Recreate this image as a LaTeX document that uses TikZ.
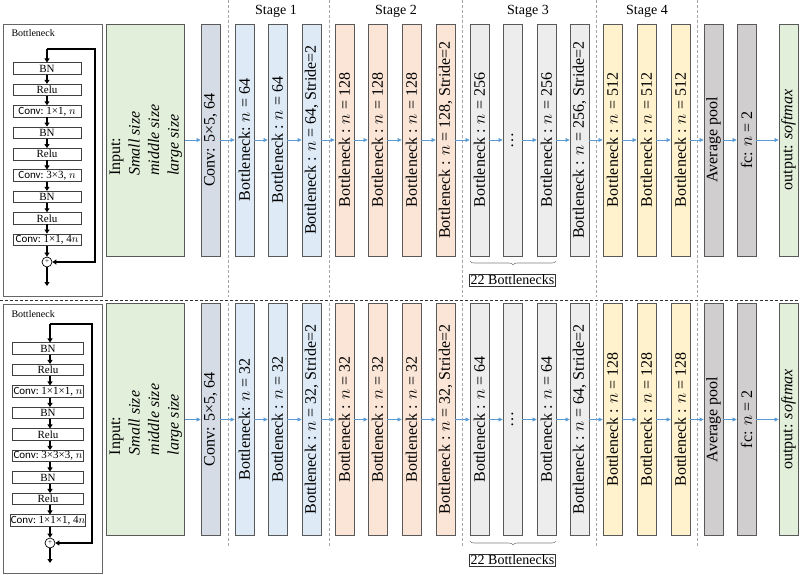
\documentclass[tikz,border=0pt]{standalone}
\usepackage{fontspec}
\setmainfont{Liberation Serif}
\newfontfamily\calib{Carlito}
\usepackage{graphicx}
\usetikzlibrary{arrows.meta,decorations.pathreplacing}
\definecolor{ingreen}{HTML}{E2EFDA}
\definecolor{convc}{HTML}{D6DCE5}
\definecolor{sonec}{HTML}{DEEBF7}
\definecolor{stwoc}{HTML}{FBE5D6}
\definecolor{sthreec}{HTML}{EDEDED}
\definecolor{sfourc}{HTML}{FFF2CC}
\definecolor{poolc}{HTML}{D0CECE}
\definecolor{bordc}{HTML}{595959}
\definecolor{arrowc}{HTML}{5B9BD5}
\newcommand\convtxt[1]{{\calib Conv:}\ #1}
\newcommand\inputtxt{\rotatebox{90}{\begin{tabular}{@{}l@{}}Input:\\\textit{Small size}\\\textit{middle size}\\\textit{large size}\end{tabular}}}
\begin{document}
\begin{tikzpicture}[x=1pt,y=-1pt,
  blk/.style={draw=bordc, line width=0.9pt, minimum width=19pt, minimum height=232pt, inner sep=0pt, font=\fontsize{16}{19.5}\selectfont},
  conn/.style={draw=arrowc, line width=0.7pt, -{Triangle[length=4pt,width=4pt]}},
  lbox/.style={draw=black!75, line width=0.6pt, minimum height=11.5pt, inner sep=0pt, font=\fontsize{11}{11}\selectfont},
  larr/.style={draw=black, line width=1.4pt, -{Triangle[length=4pt,width=5pt]}},
  lline/.style={draw=black, line width=1.4pt},
  frame/.style={draw=black!60, line width=0.8pt},
  sep/.style={draw=black!35, line width=0.6pt, dash pattern=on 3pt off 2pt},
  stagelab/.style={font=\fontsize{14}{16}\selectfont},
  countlab/.style={draw=black!80, line width=0.6pt, inner sep=1.2pt, font=\fontsize{14}{16}\selectfont},
  brc/.style={draw=black!50, line width=0.6pt, decorate, decoration={brace, mirror, amplitude=4pt}},
  lhead/.style={anchor=west, font=\fontsize{10}{11}\selectfont}
]
\useasboundingbox (0,0) rectangle (800,574);

% ---------------- separators ----------------
\draw[draw=black!80, line width=0.7pt, dash pattern=on 3pt off 2pt] (0,300) -- (800,300);
\foreach \x in {228,329,462,596,697}{
  \draw[sep] (\x,0) -- (\x,297);
  \draw[sep] (\x,303) -- (\x,548);
}
\node[stagelab] (st1) at (276,11) {Stage 1};
\node[stagelab] (st2) at (396,11) {Stage 2};
\node[stagelab] (st3) at (528,11) {Stage 3};
\node[stagelab] (st4) at (647,11) {Stage 4};

% ---------------- top left bottleneck panel ----------------
\draw[frame] (3,24) rectangle (102,296);
\node[lhead] (Lth) at (8,33) {Bottleneck};
\node[lbox, minimum width=68pt] (Lt1) at (47,68.5) {BN};
\node[lbox, minimum width=68pt] (Lt2) at (47,89.9) {Relu};
\node[lbox, minimum width=68pt] (Lt3) at (47,111.3) {\convtxt{1×1, $n$}};
\node[lbox, minimum width=68pt] (Lt4) at (47,132.7) {BN};
\node[lbox, minimum width=68pt] (Lt5) at (47,154.1) {Relu};
\node[lbox, minimum width=68pt] (Lt6) at (47,175.5) {\convtxt{3×3, $n$}};
\node[lbox, minimum width=68pt] (Lt7) at (47,196.9) {BN};
\node[lbox, minimum width=68pt] (Lt8) at (47,218.3) {Relu};
\node[lbox, minimum width=68pt] (Lt9) at (47,239.7) {\convtxt{1×1, 4$n$}};
\node[circle, draw=black, line width=0.7pt, inner sep=0pt, minimum size=10pt, font=\fontsize{7}{7}\selectfont] (Ltp) at (47,262) {+};
\coordinate (Lte) at (47,49);
\coordinate (Ltc1) at (95,49);
\coordinate (Ltc2) at (95,262);
\coordinate (Lto) at (47,286);
\draw[larr] (Lte) -- (Lt1);
\foreach \a/\b in {1/2,2/3,3/4,4/5,5/6,6/7,7/8,8/9}{ \draw[larr] (Lt\a) -- (Lt\b); }
\draw[larr] (Lt9) -- (Ltp);
\draw[lline, -{Triangle[length=4pt,width=5pt]}] (Lte) -- (Ltc1) -- (Ltc2) -- (Ltp);
\draw[larr] (Ltp) -- (Lto);

% ---------------- bottom left bottleneck panel ----------------
\draw[frame] (3,304) rectangle (102,573);
\node[lhead] (Lbh) at (8,314) {Bottleneck};
\node[lbox, minimum width=71pt] (Lb1) at (48,348.5) {BN};
\node[lbox, minimum width=71pt] (Lb2) at (48,370) {Relu};
\node[lbox, minimum width=71pt] (Lb3) at (48,391.5) {\convtxt{1×1×1, $n$}};
\node[lbox, minimum width=71pt] (Lb4) at (48,413) {BN};
\node[lbox, minimum width=71pt] (Lb5) at (48,434.5) {Relu};
\node[lbox, minimum width=71pt] (Lb6) at (48,456) {\convtxt{3×3×3, $n$}};
\node[lbox, minimum width=71pt] (Lb7) at (48,477.5) {BN};
\node[lbox, minimum width=71pt] (Lb8) at (48,499) {Relu};
\node[lbox, minimum width=71pt] (Lb9) at (48,520.5) {\convtxt{1×1×1, 4$n$}};
\node[circle, draw=black, line width=0.7pt, inner sep=0pt, minimum size=10pt, font=\fontsize{7}{7}\selectfont] (Lbp) at (50,543) {+};
\coordinate (Lbe) at (50,324);
\coordinate (Lbc1) at (92,324);
\coordinate (Lbc2) at (92,543);
\coordinate (Lbo) at (50,563);
\draw[larr] (Lbe) -- (Lbe |- Lb1.north);
\foreach \a/\b in {1/2,2/3,3/4,4/5,5/6,6/7,7/8,8/9}{ \draw[larr] (Lb\a.south -| Lbe) -- (Lb\b.north -| Lbe); }
\draw[larr] (Lb9.south -| Lbe) -- (Lbp);
\draw[lline, -{Triangle[length=4pt,width=5pt]}] (Lbe) -- (Lbc1) -- (Lbc2) -- (Lbp);
\draw[larr] (Lbp) -- (Lbo);

% ---------------- top network row ----------------
\node[blk, fill=ingreen, minimum width=77pt] (tin) at (145.5,140) {\inputtxt};
\node[blk, fill=convc] (tconv) at (210.5,140) {\rotatebox{90}{Conv: 5×5, 64}};
\node[blk, fill=sonec] (t1) at (244.5,140) {\rotatebox{90}{Bottleneck: $n$ = 64}};
\node[blk, fill=sonec] (t2) at (277.5,140) {\rotatebox{90}{Bottleneck : $n$ = 64}};
\node[blk, fill=sonec] (t3) at (311.5,140) {\rotatebox{90}{Bottleneck : $n$ = 64, Stride=2}};
\node[blk, fill=stwoc] (t4) at (344.5,140) {\rotatebox{90}{Bottleneck : $n$ = 128}};
\node[blk, fill=stwoc] (t5) at (377.5,140) {\rotatebox{90}{Bottleneck : $n$ = 128}};
\node[blk, fill=stwoc] (t6) at (411.5,140) {\rotatebox{90}{Bottleneck : $n$ = 128}};
\node[blk, fill=stwoc] (t7) at (445.5,140) {\rotatebox{90}{Bottleneck : $n$ = 128, Stride=2}};
\node[blk, fill=sthreec] (t8) at (479.5,140) {\rotatebox{90}{Bottleneck : $n$ = 256}};
\node[blk, fill=sthreec] (t9) at (512.5,140) {\rotatebox{90}{…}};
\node[blk, fill=sthreec] (t10) at (546.5,140) {\rotatebox{90}{Bottleneck : $n$ = 256}};
\node[blk, fill=sthreec] (t11) at (579.5,140) {\rotatebox{90}{Bottleneck : $n$ = 256, Stride=2}};
\node[blk, fill=sfourc] (t12) at (612.5,140) {\rotatebox{90}{Bottleneck : $n$ = 512}};
\node[blk, fill=sfourc] (t13) at (646.5,140) {\rotatebox{90}{Bottleneck : $n$ = 512}};
\node[blk, fill=sfourc] (t14) at (680.5,140) {\rotatebox{90}{Bottleneck : $n$ = 512}};
\node[blk, fill=poolc] (t15) at (713.5,140) {\rotatebox{90}{Average pool}};
\node[blk, fill=poolc] (t16) at (746.5,140) {\rotatebox{90}{fc: $n$ = 2}};
\node[blk, fill=ingreen] (t17) at (788.5,140) {\rotatebox{90}{output: \textit{softmax}}};
\foreach \a/\b in {in/conv,conv/1,1/2,2/3,3/4,4/5,5/6,6/7,7/8,8/9,9/10,10/11,11/12,12/13,13/14,14/15,15/16,16/17}{
  \draw[conn] (t\a) -- (t\b);
}
\coordinate (tbl) at (470,261);
\coordinate (tbr) at (556,261);
\draw[brc] (tbl) -- (tbr);
\node[countlab] (tcnt) at (512.5,280) {22 Bottlenecks};

% ---------------- bottom network row ----------------
\node[blk, fill=ingreen, minimum width=77pt] (bin) at (145.5,419.5) {\inputtxt};
\node[blk, fill=convc] (bconv) at (210.5,419.5) {\rotatebox{90}{Conv: 5×5, 64}};
\node[blk, fill=sonec] (b1) at (244.5,419.5) {\rotatebox{90}{Bottleneck: $n$ = 32}};
\node[blk, fill=sonec] (b2) at (277.5,419.5) {\rotatebox{90}{Bottleneck : $n$ = 32}};
\node[blk, fill=sonec] (b3) at (311.5,419.5) {\rotatebox{90}{Bottleneck : $n$ = 32, Stride=2}};
\node[blk, fill=stwoc] (b4) at (344.5,419.5) {\rotatebox{90}{Bottleneck : $n$ = 32}};
\node[blk, fill=stwoc] (b5) at (377.5,419.5) {\rotatebox{90}{Bottleneck : $n$ = 32}};
\node[blk, fill=stwoc] (b6) at (411.5,419.5) {\rotatebox{90}{Bottleneck : $n$ = 32}};
\node[blk, fill=stwoc] (b7) at (445.5,419.5) {\rotatebox{90}{Bottleneck : $n$ = 32, Stride=2}};
\node[blk, fill=sthreec] (b8) at (479.5,419.5) {\rotatebox{90}{Bottleneck : $n$ = 64}};
\node[blk, fill=sthreec] (b9) at (512.5,419.5) {\rotatebox{90}{…}};
\node[blk, fill=sthreec] (b10) at (546.5,419.5) {\rotatebox{90}{Bottleneck : $n$ = 64}};
\node[blk, fill=sthreec] (b11) at (579.5,419.5) {\rotatebox{90}{Bottleneck : $n$ = 64, Stride=2}};
\node[blk, fill=sfourc] (b12) at (612.5,419.5) {\rotatebox{90}{Bottleneck : $n$ = 128}};
\node[blk, fill=sfourc] (b13) at (646.5,419.5) {\rotatebox{90}{Bottleneck : $n$ = 128}};
\node[blk, fill=sfourc] (b14) at (680.5,419.5) {\rotatebox{90}{Bottleneck : $n$ = 128}};
\node[blk, fill=poolc] (b15) at (713.5,419.5) {\rotatebox{90}{Average pool}};
\node[blk, fill=poolc] (b16) at (746.5,419.5) {\rotatebox{90}{fc: $n$ = 2}};
\node[blk, fill=ingreen] (b17) at (788.5,419.5) {\rotatebox{90}{output: \textit{softmax}}};
\foreach \a/\b in {in/conv,conv/1,1/2,2/3,3/4,4/5,5/6,6/7,7/8,8/9,9/10,10/11,11/12,12/13,13/14,14/15,15/16,16/17}{
  \draw[conn] (b\a) -- (b\b);
}
\coordinate (bbl) at (470,541);
\coordinate (bbr) at (556,541);
\draw[brc] (bbl) -- (bbr);
\node[countlab] (bcnt) at (512.5,560) {22 Bottlenecks};
\end{tikzpicture}
\end{document}
